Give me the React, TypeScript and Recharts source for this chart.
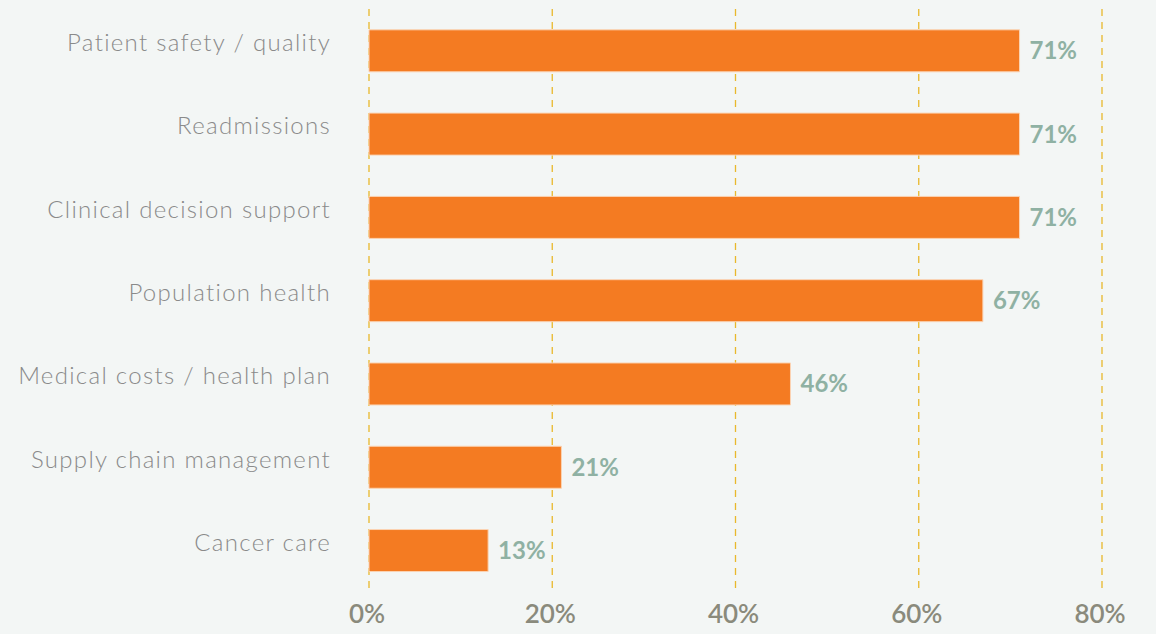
import React from "react";
import { BarChart, Bar, XAxis, YAxis, CartesianGrid, LabelList } from "recharts";

const categories = [
  "Patient safety / quality",
  "Readmissions",
  "Clinical decision support",
  "Population health",
  "Medical costs / health plan",
  "Supply chain management",
  "Cancer care",
];
const values = [71, 71, 71, 67, 46, 21, 13];
const xTicks = [0, 20, 40, 60, 80];

const data = categories.map((name, i) => ({ name, value: values[i] }));

const App = () => {
  return (
    <div
      style={{
        position: "absolute",
        left: 0,
        top: 0,
        width: 1156,
        height: 634,
        background: "#f3f6f5",
      }}
    >
      <BarChart
        width={1156}
        height={634}
        data={data}
        layout="vertical"
        margin={{ top: 9, right: 54, bottom: 0, left: 0 }}
        barCategoryGap="25%"
      >
        <CartesianGrid
          horizontal={false}
          stroke="#e9b82c"
          strokeWidth={1.3}
          strokeDasharray="7 6"
        />
        <XAxis
          type="number"
          domain={[0, 80]}
          ticks={xTicks}
          tickFormatter={(v) => `${v}%`}
          axisLine={false}
          tickLine={false}
          height={42}
          tickMargin={7}
          tick={{ fill: "#8a8a7c", fontSize: 26, fontFamily: "Lato", fontWeight: 600, dx: -2 }}
        />
        <YAxis
          type="category"
          dataKey="name"
          width={369}
          axisLine={false}
          tickLine={false}
          tickMargin={32}
          tick={{
            fill: "#8a8a8a",
            fontSize: 24,
            fontFamily: "Lato",
            fontWeight: 300,
            letterSpacing: 1.3,
            dy: -8,
          }}
        />
        <Bar
          dataKey="value"
          fill="#f47b22"
          stroke="#fbd3b3"
          strokeWidth={1}
          isAnimationActive={false}
        >
          <LabelList
            dataKey="value"
            position="right"
            offset={10}
            formatter={(v) => `${v}%`}
            fill="#8fb1a3"
            fontSize={24}
            fontFamily="Lato"
            fontWeight={700}
          />
        </Bar>
      </BarChart>
    </div>
  );
};

export default App;
